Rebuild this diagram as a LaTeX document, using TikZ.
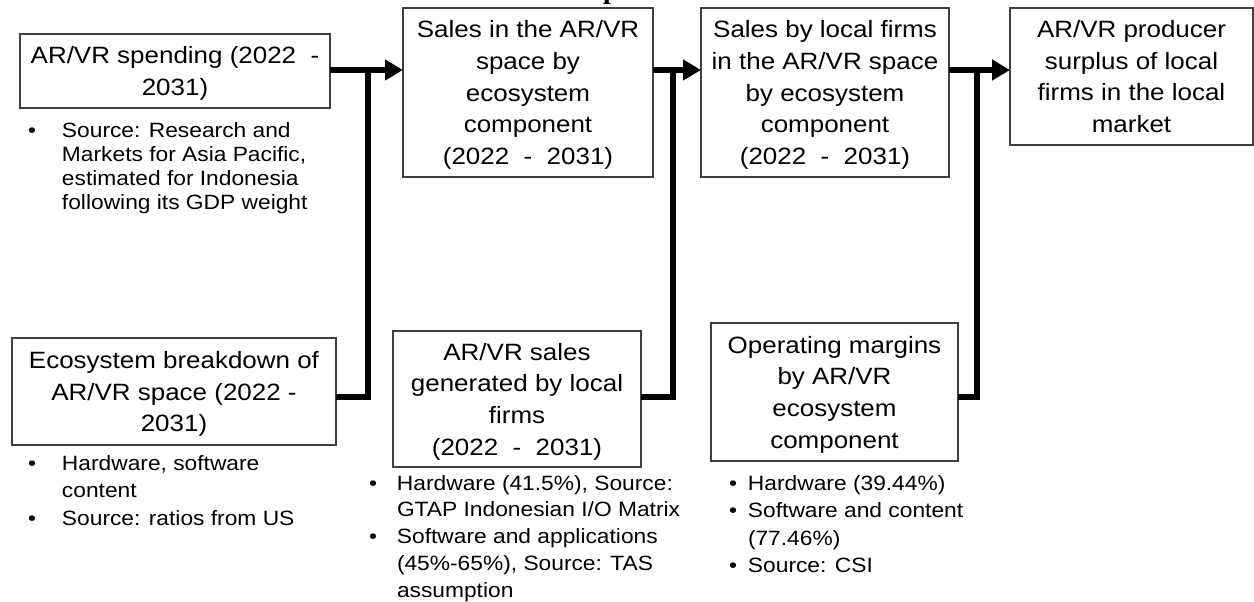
\documentclass[tikz,border=0pt]{standalone}
\usepackage{fontspec}
\setmainfont{Liberation Sans}[FakeStretch=1.1]
\newfontfamily\headserif{Liberation Serif}
\usetikzlibrary{arrows.meta}

\tikzset{
  box/.style={draw=black!75, line width=1.2pt, inner sep=0pt, outer sep=0pt,
    align=center, text=black, text depth=0pt, font=\fontsize{23.6}{31.7}\selectfont},
  notes/.style={inner sep=0pt, outer sep=0pt, anchor=base west, text=black},
  link/.style={line width=6pt, black, line join=miter},
  feed/.style={link, -{Triangle[length=18pt,width=20pt]}},
}
% a top-aligned block of note lines, its baseline on the first line
\newcommand\notelines[1]{\parbox[t]{330pt}{\raggedright #1}}

\begin{document}
\begin{tikzpicture}[x=1pt,y=-1pt]
\useasboundingbox (0,0) rectangle (1254,602);

% heading, only its lowest part falls on the page
\node[inner sep=0pt, anchor=base west, font=\headserif\bfseries\fontsize{28}{30}\selectfont] (head) at (603,-1) {p};

% main boxes
\node[box, minimum width=310pt, minimum height=74pt] (spend) at (175,71)
  {AR/VR spending (2022~~-\\2031)};
\node[box, minimum width=250pt, minimum height=169pt] (sales) at (528,92.5)
  {Sales in the AR/VR\\space by\\ecosystem\\component\\(2022~~-~~2031)};
\node[box, minimum width=248pt, minimum height=169pt] (local) at (825,92.5)
  {Sales by local firms\\in the AR/VR space\\by ecosystem\\component\\(2022~~-~~2031)};
\node[box, minimum width=243pt, minimum height=137pt] (surplus) at (1131.5,76.5)
  {AR/VR producer\\surplus of local\\firms in the local\\market};
\node[box, minimum width=324pt, minimum height=107pt] (eco) at (174,391.5)
  {Ecosystem breakdown of\\AR/VR space (2022 -\\2031)};
\node[box, minimum width=248pt, minimum height=136pt] (gen) at (517,399)
  {AR/VR sales\\generated by local\\firms\\(2022~~-~~2031)};
\node[box, minimum width=247pt, minimum height=138pt] (margin) at (834.5,392)
  {Operating margins\\by AR/VR\\ecosystem\\component};

% notes under the boxes
\node[notes, font=\fontsize{20.7}{24.2}\selectfont] (spendnote) at (28,137)
  {\notelines{\makebox[34pt][l]{\textbullet}Source: Research and\\
   \hspace*{34pt}Markets for Asia Pacific,\\
   \hspace*{34pt}estimated for Indonesia\\
   \hspace*{34pt}following its GDP weight}};
\node[notes, font=\fontsize{20.7}{27.5}\selectfont] (econote) at (28,470)
  {\notelines{\makebox[34pt][l]{\textbullet}Hardware, software\\
   \hspace*{34pt}content\\
   \makebox[34pt][l]{\textbullet}Source: ratios from US}};
\node[notes, font=\fontsize{20.7}{26.8}\selectfont] (gennote) at (369,490)
  {\notelines{\makebox[28pt][l]{\textbullet}Hardware (41.5\%), Source:\\
   \hspace*{28pt}GTAP Indonesian I/O Matrix\\
   \makebox[28pt][l]{\textbullet}Software and applications\\
   \hspace*{28pt}(45\%-65\%), Source: TAS\\
   \hspace*{28pt}assumption}};
\node[notes, font=\fontsize{20.7}{27.5}\selectfont] (marginnote) at (729,490)
  {\notelines{\makebox[19pt][l]{\textbullet}Hardware (39.44\%)\\
   \makebox[19pt][l]{\textbullet}Software and content\\
   \hspace*{19pt}(77.46\%)\\
   \makebox[19pt][l]{\textbullet}Source: CSI}};

% connector rows and junctions
\coordinate (rowT) at (0,70);
\coordinate (rowJ) at (0,397);
\coordinate (jA) at (368,70);
\coordinate (jB) at (673,70);
\coordinate (jC) at (977,70);

\draw[feed] (spend.east |- rowT) -- (sales.west |- rowT);
\draw[link] (eco.east |- rowJ) -| (jA);

\draw[feed] (sales.east |- rowT) -- (local.west |- rowT);
\draw[link] (gen.east |- rowJ) -| (jB);

\draw[feed] (local.east |- rowT) -- (surplus.west |- rowT);
\draw[link] (margin.east |- rowJ) -| (jC);
\end{tikzpicture}
\end{document}
